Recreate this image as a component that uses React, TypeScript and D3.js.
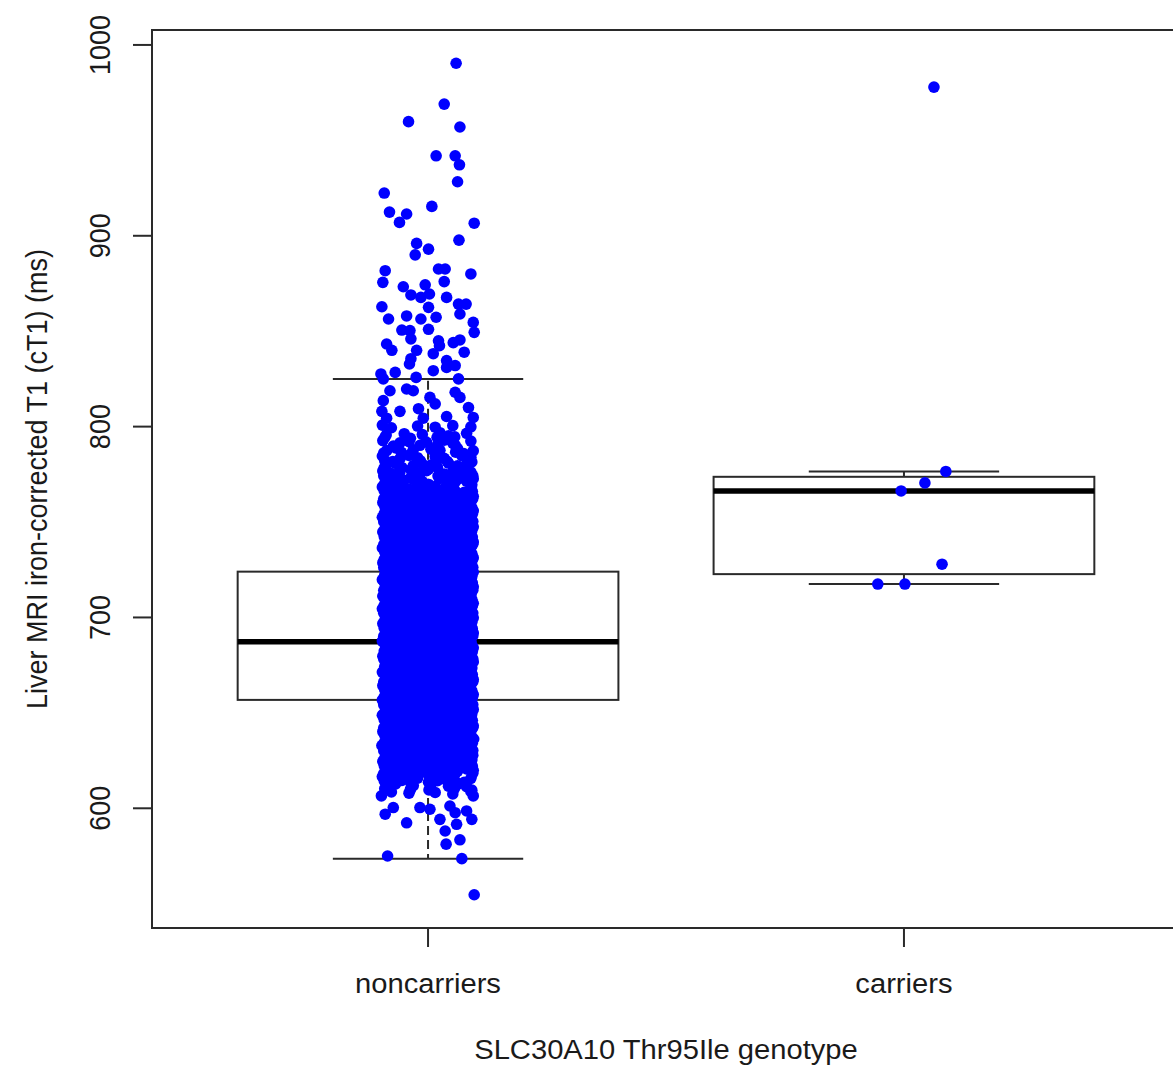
import React from "react";
import * as d3 from "d3";

// ---------- data ----------
const categories = ["noncarriers", "carriers"];
const boxLower = [573.5, 717.5];
const boxQ1 = [656.8, 722.7];
const boxMedian = [687.3, 766.3];
const boxQ3 = [724.0, 773.7];
const boxUpper = [824.9, 776.5];

const carrierValues = [977.9, 776.5, 770.5, 766.3, 727.9, 717.5, 717.5];
const carrierJitter = [0.063, 0.088, 0.044, -0.006, 0.08, -0.055, 0.002];

// [value, jitter] for noncarriers
const noncarrierUpper: [number, number][] = [
  [990.4,.059],[969.0,.034],[959.8,-.041],[957.0,.067],[941.9,.017],[941.9,.057],[937.2,.066],[928.3,.062],
  [922.4,-.092],[912.4,-.081],[911.4,-.045],[907.0,-.060],[915.4,.008],[906.6,.097],[897.7,.065],[896.0,-.024],
  [893.0,.001],[890.0,-.027],[882.6,.022],[882.6,.036],[880.0,.090],[881.7,-.090],[875.6,-.095],[876.0,.034],
  [873.3,-.052],[874.3,-.006],[869.0,-.036],[867.7,-.015],[869.5,.003],[867.7,.039],[862.8,-.097],[856.4,-.083],
  [858.0,-.045],[856.4,-.015],[862.5,.001],[857.3,.017],[864.2,.064],[864.2,.080],[859.0,.067],[854.6,.095],
  [849.4,.097],[850.6,-.055],[850.3,-.038],[851.0,.001],[846.0,-.036],[845.0,.022],[842.4,.024],[844.0,.053],
  [845.4,.067],[843.3,-.087],[840.0,-.076],[840.0,-.024],[835.6,-.036],[838.2,.011],[839.0,.076],[834.6,.039],
  [832.8,-.039],[827.6,-.099],[825.0,-.094],[828.4,-.069],[825.8,-.025],[829.3,.011],[831.0,.039],[832.0,.057],
  [825.0,.064],[818.8,-.080],[819.7,-.045],[818.8,-.031],[813.6,-.094],[815.3,.004],[811.9,.015],[818.0,.057],
  [815.3,.067],[810.0,.085],[804.8,.095],[808.0,-.097],[804.4,-.087],[808.0,-.059],[809.4,-.020],[804.4,-.010],
  [805.3,.039],
  [800.8,-.096],[799.4,-.077],[800.3,-.022],[799.7,.015],[800.5,.052],[799.9,.090],
  [795.6,-.088],[796.3,-.050],[795.9,-.012],[796.8,.025],[795.2,.043],[796.5,.081],
  [792.7,-.095],[791.5,-.059],[792.1,-.040],[791.8,-.003],[792.9,.034],[791.3,.052],[792.4,.090],
  [787.4,-.087],[788.8,-.068],[787.9,-.031],[788.2,.006],[787.6,.025],[788.5,.062],[787.3,.095],
  [784.6,-.096],[783.2,-.059],[784.9,-.040],[783.7,-.022],[784.3,.015],[783.4,.034],[784.8,.071],[783.9,.090],
  [779.3,-.088],[780.7,-.068],[779.6,-.031],[780.4,-.012],[779.8,.006],[780.9,.043],[779.5,.062],[780.2,.081],
  [776.8,-.095],[775.4,-.077],[776.3,-.059],[775.6,-.022],[776.9,-.003],[775.2,.034],[776.5,.052],[775.8,.071],[776.2,.090],
  [771.5,-.087],[772.6,-.068],[771.9,-.050],[772.3,-.031],[771.2,-.012],[772.8,.025],[771.7,.043],[772.4,.062],[771.4,.081],[772.7,.095],
  [768.4,-.096],[767.7,-.077],[768.9,-.059],[767.3,-.040],[768.2,-.022],[767.8,-.003],[768.6,.015],[767.5,.034],[768.8,.052],[768.1,.090],
  [794.3,-.091],[793.9,-.037],[794.4,.019],[794.6,.056],
  [789.8,-.073],[790.2,-.017],[790.5,.020],[790.3,.057],
  [786.2,-.093],[786.5,-.056],[785.8,-.035],[786.1,.021],[786.6,.058],[785.9,.075],
  [782.3,-.091],[781.7,-.074],[782.1,-.016],[782.4,.019],[781.8,.040],[781.5,.092],
  [778.4,-.092],[778.6,-.055],[777.5,-.036],[777.7,.001],[778.5,.020],[778.3,.057],[777.6,.076],
  [774.2,-.093],[773.6,-.072],[773.8,-.035],[774.4,-.018],[774.1,.021],[773.7,.038],[773.9,.075],[774.3,.094],
  [770.3,-.091],[769.7,-.074],[770.5,-.054],[770.1,-.016],[769.6,.002],[769.8,.040],[770.6,.056],[769.5,.092],
];

const noncarrierCore: [number, number][] = [
  [763.6,-.088],[764.9,-.068],[763.4,-.050],[764.2,-.031],[763.8,-.012],[764.5,.006],[763.3,.025],[764.7,.043],[763.9,.062],[764.4,.081],[763.5,.095],
  [760.3,-.095],[759.6,-.077],[760.7,-.059],[759.2,-.040],[760.5,-.022],[759.8,-.003],[760.9,.015],[759.4,.034],[760.2,.052],[759.7,.071],[760.6,.090],
  [755.8,-.087],[756.4,-.068],[755.2,-.050],[756.7,-.031],[755.5,-.012],[756.9,.006],[755.7,.025],[756.3,.043],[755.4,.062],[756.6,.081],[755.9,.095],
  [752.5,-.096],[751.6,-.077],[752.8,-.059],[751.3,-.040],[752.2,-.022],[751.9,-.003],[752.6,.015],[751.4,.034],[752.9,.052],[751.7,.071],[752.3,.090],
  [747.3,-.088],[748.7,-.068],[747.6,-.050],[748.4,-.031],[747.9,-.012],[748.2,.006],[747.4,.025],[748.8,.043],[747.7,.062],[748.3,.081],[747.5,.095],
  [744.8,-.095],[743.4,-.077],[744.3,-.059],[743.7,-.040],[744.9,-.022],[743.2,-.003],[744.5,.015],[743.8,.034],[744.2,.052],[743.5,.071],[744.6,.090],
  [739.5,-.087],[740.6,-.068],[739.8,-.050],[740.2,-.031],[739.3,-.012],[740.9,.006],[739.7,.025],[740.4,.043],[739.2,.062],[740.7,.081],[739.6,.095],
  [736.4,-.096],[735.8,-.077],[736.9,-.059],[735.3,-.040],[736.2,-.022],[735.6,-.003],[736.7,.015],[735.4,.034],[736.3,.052],[735.9,.071],[736.8,.090],
  [731.6,-.088],[732.3,-.068],[731.2,-.050],[732.7,-.031],[731.8,-.012],[732.5,.006],[731.4,.025],[732.9,.043],[731.7,.062],[732.2,.081],[731.3,.095],
  [728.7,-.095],[727.5,-.077],[728.2,-.059],[727.9,-.040],[728.8,-.022],[727.3,-.003],[728.4,.015],[727.6,.034],[728.9,.052],[727.8,.071],[728.3,.090],
  [723.4,-.087],[724.8,-.068],[723.7,-.050],[724.3,-.031],[723.2,-.012],[724.6,.006],[723.9,.025],[724.1,.043],[723.5,.062],[724.7,.081],[723.8,.095],
  [719.8,-.096],[720.5,-.077],[719.4,-.059],[720.2,-.040],[719.6,-.022],[720.9,-.003],[719.3,.015],[720.6,.034],[719.9,.052],[720.4,.071],[719.5,.090],
  [716.6,-.088],[715.3,-.068],[716.2,-.050],[715.8,-.031],[716.9,-.012],[715.5,.006],[716.4,.025],[715.2,.043],[716.7,.062],[715.9,.081],[716.1,.095],
  [711.2,-.095],[712.6,-.077],[711.8,-.059],[712.9,-.040],[711.4,-.022],[712.3,-.003],[711.7,.015],[712.8,.034],[711.5,.052],[712.1,.071],[711.9,.090],
  [707.7,-.087],[708.4,-.068],[707.3,-.050],[708.8,-.031],[707.9,-.012],[708.6,.006],[707.2,.025],[708.3,.043],[707.6,.062],[708.5,.081],[707.4,.095],
  [704.5,-.096],[703.2,-.077],[704.8,-.059],[703.6,-.040],[704.1,-.022],[703.9,-.003],[704.6,.015],[703.3,.034],[704.9,.052],[703.7,.071],[704.3,.090],
  [699.4,-.088],[700.7,-.068],[699.9,-.050],[700.3,-.031],[699.2,-.012],[700.8,.006],[699.6,.025],[700.2,.043],[699.3,.062],[700.9,.081],[699.8,.095],
  [696.8,-.095],[695.4,-.077],[696.3,-.059],[695.7,-.040],[696.9,-.022],[695.2,-.003],[696.5,.015],[695.9,.034],[696.2,.052],[695.6,.071],[696.7,.090],
  [691.3,-.087],[692.5,-.068],[691.8,-.050],[692.9,-.031],[691.5,-.012],[692.2,.006],[691.7,.025],[692.8,.043],[691.4,.062],[692.6,.081],[691.9,.095],
  [687.6,-.096],[688.9,-.077],[687.2,-.059],[688.4,-.040],[687.8,-.022],[688.6,-.003],[687.3,.015],[688.7,.034],[687.9,.052],[688.2,.071],[687.5,.090],
  [684.2,-.088],[683.5,-.068],[684.7,-.050],[683.8,-.031],[684.9,-.012],[683.3,.006],[684.4,.025],[683.6,.043],[684.8,.062],[683.9,.081],[684.1,.095],
  [679.7,-.095],[680.4,-.077],[679.3,-.059],[680.9,-.040],[679.8,-.022],[680.2,-.003],[679.5,.015],[680.6,.034],[679.1,.052],[680.8,.071],[679.6,.090],
  [676.5,-.087],[675.3,-.068],[676.8,-.050],[675.6,-.031],[676.2,-.012],[675.1,.006],[676.9,.025],[675.8,.043],[676.4,.062],[675.5,.081],[676.7,.095],
  [671.4,-.096],[672.7,-.077],[671.9,-.059],[672.3,-.040],[671.2,-.022],[672.8,-.003],[671.6,.015],[672.1,.034],[671.3,.052],[672.6,.071],[671.8,.090],
  [667.8,-.088],[668.5,-.068],[667.1,-.050],[668.9,-.031],[667.6,-.012],[668.2,.006],[667.4,.025],[668.7,.043],[667.9,.062],[668.3,.081],[667.5,.095],
  [664.3,-.095],[663.6,-.077],[664.8,-.059],[663.2,-.040],[664.5,-.022],[663.9,-.003],[664.7,.015],[663.4,.034],[664.1,.052],[663.8,.071],[664.9,.090],
  [659.5,-.087],[660.8,-.068],[659.2,-.050],[660.3,-.031],[659.9,-.012],[660.6,.006],[659.4,.025],[660.9,.043],[659.7,.062],[660.2,.081],[659.6,.095],
  [656.7,-.096],[655.3,-.077],[656.1,-.059],[655.6,-.040],[656.9,-.022],[655.4,-.003],[656.5,.015],[655.8,.034],[656.3,.052],[655.1,.071],[656.8,.090],
  [651.4,-.088],[652.6,-.068],[651.9,-.050],[652.8,-.031],[651.2,-.012],[652.4,.006],[651.7,.025],[652.9,.043],[651.5,.062],[652.3,.080],[651.8,.095],
  [648.8,-.096],[647.4,-.078],[648.3,-.059],[647.6,-.040],[649.0,-.022],[647.9,-.003],[648.6,.015],[647.3,.034],[648.9,.052],[647.7,.071],[648.2,.090],
  [643.5,-.087],[644.7,-.067],[643.3,-.050],[644.9,-.030],[643.8,-.012],[644.2,.007],[643.4,.025],[645.0,.043],[643.9,.062],[644.6,.081],[643.2,.095],
  [640.2,-.095],[641.0,-.077],[639.4,-.058],[640.7,-.041],[639.8,-.021],[640.9,-.004],[639.5,.016],[640.3,.033],[641.1,.053],[639.6,.070],[640.5,.090],
  [635.6,-.086],[636.9,-.069],[635.2,-.049],[636.4,-.032],[637.0,-.011],[635.8,.005],[636.6,.026],[635.4,.042],[636.8,.063],[635.5,.080],[636.3,.096],
  [632.9,-.097],[631.4,-.076],[632.5,-.060],[631.8,-.039],[633.1,-.023],[632.0,-.002],[631.3,.014],[632.7,.035],[631.6,.051],[632.8,.072],[631.5,.089],
  [627.3,-.088],[628.8,-.066],[627.6,-.051],[629.1,-.030],[628.2,-.013],[627.5,.007],[629.0,.024],[628.4,.044],[627.2,.061],[628.9,.082],[627.8,.094],
  [624.6,-.095],[623.2,-.078],[625.1,-.058],[623.8,-.041],[624.9,-.020],[623.5,-.004],[625.3,.016],[623.9,.033],[624.4,.054],[623.1,.070],[625.0,.091],
];

const noncarrierCoreFill: [number, number][] = [
  [622.4,-.092],[621.8,-.073],[622.6,-.055],[621.5,-.036],[622.2,-.017],[621.7,.001],[622.5,.020],[621.9,.039],[622.3,.057],[621.6,.076],[622.1,.093],
  [626.3,-.091],[625.7,-.074],[626.5,-.054],[625.9,-.037],[626.1,-.016],[625.6,.002],[626.4,.019],[625.8,.040],[626.6,.056],[626.0,.077],[625.5,.092],
  [630.2,-.093],[629.6,-.072],[630.5,-.056],[629.8,-.035],[630.4,-.018],[629.5,.001],[630.1,.021],[629.7,.038],[630.6,.058],[629.9,.075],[630.3,.094],
  [634.4,-.092],[633.8,-.073],[634.6,-.055],[633.5,-.036],[634.2,-.017],[633.7,.001],[634.5,.020],[633.9,.039],[634.3,.057],[633.6,.076],[634.1,.093],
  [638.3,-.091],[637.7,-.074],[638.5,-.054],[637.9,-.037],[638.1,-.016],[637.6,.002],[638.4,.019],[637.8,.040],[638.6,.056],[638.0,.077],[637.5,.092],
  [642.2,-.093],[641.6,-.072],[642.5,-.056],[641.8,-.035],[642.4,-.018],[641.5,.001],[642.1,.021],[641.7,.038],[642.6,.058],[641.9,.075],[642.3,.094],
  [646.4,-.092],[645.8,-.073],[646.6,-.055],[645.5,-.036],[646.2,-.017],[645.7,.001],[646.5,.020],[645.9,.039],[646.3,.057],[645.6,.076],[646.1,.093],
  [650.3,-.091],[649.7,-.074],[650.5,-.054],[649.9,-.037],[650.1,-.016],[649.6,.002],[650.4,.019],[649.8,.040],[650.6,.056],[650.0,.077],[649.5,.092],
  [654.2,-.093],[653.6,-.072],[654.5,-.056],[653.8,-.035],[654.4,-.018],[653.5,.001],[654.1,.021],[653.7,.038],[654.6,.058],[653.9,.075],[654.3,.094],
  [658.4,-.092],[657.8,-.073],[658.6,-.055],[657.5,-.036],[658.2,-.017],[657.7,.001],[658.5,.020],[657.9,.039],[658.3,.057],[657.6,.076],[658.1,.093],
  [662.3,-.091],[661.7,-.074],[662.5,-.054],[661.9,-.037],[662.1,-.016],[661.6,.002],[662.4,.019],[661.8,.040],[662.6,.056],[662.0,.077],[661.5,.092],
  [666.2,-.093],[665.6,-.072],[666.5,-.056],[665.8,-.035],[666.4,-.018],[665.5,.001],[666.1,.021],[665.7,.038],[666.6,.058],[665.9,.075],[666.3,.094],
  [670.4,-.092],[669.8,-.073],[670.6,-.055],[669.5,-.036],[670.2,-.017],[669.7,.001],[670.5,.020],[669.9,.039],[670.3,.057],[669.6,.076],[670.1,.093],
  [674.3,-.091],[673.7,-.074],[674.5,-.054],[673.9,-.037],[674.1,-.016],[673.6,.002],[674.4,.019],[673.8,.040],[674.6,.056],[674.0,.077],[673.5,.092],
  [678.2,-.093],[677.6,-.072],[678.5,-.056],[677.8,-.035],[678.4,-.018],[677.5,.001],[678.1,.021],[677.7,.038],[678.6,.058],[677.9,.075],[678.3,.094],
  [682.4,-.092],[681.8,-.073],[682.6,-.055],[681.5,-.036],[682.2,-.017],[681.7,.001],[682.5,.020],[681.9,.039],[682.3,.057],[681.6,.076],[682.1,.093],
  [686.3,-.091],[685.7,-.074],[686.5,-.054],[685.9,-.037],[686.1,-.016],[685.6,.002],[686.4,.019],[685.8,.040],[686.6,.056],[686.0,.077],[685.5,.092],
  [690.2,-.093],[689.6,-.072],[690.5,-.056],[689.8,-.035],[690.4,-.018],[689.5,.001],[690.1,.021],[689.7,.038],[690.6,.058],[689.9,.075],[690.3,.094],
  [694.4,-.092],[693.8,-.073],[694.6,-.055],[693.5,-.036],[694.2,-.017],[693.7,.001],[694.5,.020],[693.9,.039],[694.3,.057],[693.6,.076],[694.1,.093],
  [698.3,-.091],[697.7,-.074],[698.5,-.054],[697.9,-.037],[698.1,-.016],[697.6,.002],[698.4,.019],[697.8,.040],[698.6,.056],[698.0,.077],[697.5,.092],
  [702.2,-.093],[701.6,-.072],[702.5,-.056],[701.8,-.035],[702.4,-.018],[701.5,.001],[702.1,.021],[701.7,.038],[702.6,.058],[701.9,.075],[702.3,.094],
  [706.4,-.092],[705.8,-.073],[706.6,-.055],[705.5,-.036],[706.2,-.017],[705.7,.001],[706.5,.020],[705.9,.039],[706.3,.057],[705.6,.076],[706.1,.093],
  [710.3,-.091],[709.7,-.074],[710.5,-.054],[709.9,-.037],[710.1,-.016],[709.6,.002],[710.4,.019],[709.8,.040],[710.6,.056],[710.0,.077],[709.5,.092],
  [714.2,-.093],[713.6,-.072],[714.5,-.056],[713.8,-.035],[714.4,-.018],[713.5,.001],[714.1,.021],[713.7,.038],[714.6,.058],[713.9,.075],[714.3,.094],
  [718.4,-.092],[717.8,-.073],[718.6,-.055],[717.5,-.036],[718.2,-.017],[717.7,.001],[718.5,.020],[717.9,.039],[718.3,.057],[717.6,.076],[718.1,.093],
  [722.3,-.091],[721.7,-.074],[722.5,-.054],[721.9,-.037],[722.1,-.016],[721.6,.002],[722.4,.019],[721.8,.040],[722.6,.056],[722.0,.077],[721.5,.092],
  [726.2,-.093],[725.6,-.072],[726.5,-.056],[725.8,-.035],[726.4,-.018],[725.5,.001],[726.1,.021],[725.7,.038],[726.6,.058],[725.9,.075],[726.3,.094],
  [730.4,-.092],[729.8,-.073],[730.6,-.055],[729.5,-.036],[730.2,-.017],[729.7,.001],[730.5,.020],[729.9,.039],[730.3,.057],[729.6,.076],[730.1,.093],
  [734.3,-.091],[733.7,-.074],[734.5,-.054],[733.9,-.037],[734.1,-.016],[733.6,.002],[734.4,.019],[733.8,.040],[734.6,.056],[734.0,.077],[733.5,.092],
  [738.2,-.093],[737.6,-.072],[738.5,-.056],[737.8,-.035],[738.4,-.018],[737.5,.001],[738.1,.021],[737.7,.038],[738.6,.058],[737.9,.075],[738.3,.094],
  [742.4,-.092],[741.8,-.073],[742.6,-.055],[741.5,-.036],[742.2,-.017],[741.7,.001],[742.5,.020],[741.9,.039],[742.3,.057],[741.6,.076],[742.1,.093],
  [746.3,-.091],[745.7,-.074],[746.5,-.054],[745.9,-.037],[746.1,-.016],[745.6,.002],[746.4,.019],[745.8,.040],[746.6,.056],[746.0,.077],[745.5,.092],
  [750.2,-.093],[749.6,-.072],[750.5,-.056],[749.8,-.035],[750.4,-.018],[749.5,.001],[750.1,.021],[749.7,.038],[750.6,.058],[749.9,.075],[750.3,.094],
  [754.4,-.092],[753.8,-.073],[754.6,-.055],[753.5,-.036],[754.2,-.017],[753.7,.001],[754.5,.020],[753.9,.039],[754.3,.057],[753.6,.076],[754.1,.093],
  [758.3,-.091],[757.7,-.074],[758.5,-.054],[757.9,-.037],[758.1,-.016],[757.6,.002],[758.4,.019],[757.8,.040],[758.6,.056],[758.0,.077],[757.5,.092],
  [762.2,-.093],[761.6,-.072],[762.5,-.056],[761.8,-.035],[762.4,-.018],[761.5,.001],[762.1,.021],[761.7,.038],[762.6,.058],[761.9,.075],[762.3,.094],
  [766.4,-.092],[765.8,-.073],[766.6,-.055],[765.5,-.036],[766.2,-.017],[765.7,.001],[766.5,.020],[765.9,.039],[766.3,.057],[765.6,.076],[766.1,.093],
];

const noncarrierLower: [number, number][] = [
  [619.5,-.087],[620.7,-.068],[619.2,-.050],[620.4,-.031],[619.8,-.012],[620.9,.006],[619.6,.025],[620.3,.043],[619.4,.062],[620.6,.081],[619.9,.095],
  [618.2,-.093],[617.6,-.072],[618.5,-.056],[618.4,-.018],[617.5,.001],[618.1,.021],[617.7,.038],[618.6,.058],[618.3,.094],
  [616.6,-.096],[615.3,-.077],[616.2,-.040],[615.8,-.022],[616.9,.015],[615.4,.034],[616.5,.052],[615.7,.090],
  [614.4,-.092],[614.6,-.055],[613.5,-.036],[613.7,.001],[614.5,.020],[614.3,.057],[613.6,.076],
  [611.4,-.087],[612.8,-.068],[611.9,-.031],[612.3,.006],[611.6,.043],[612.7,.062],[611.3,.081],
  [610.3,-.091],[609.9,-.037],[609.6,.002],[610.6,.056],[609.5,.092],
  [608.6,-.077],[607.9,-.040],[608.3,.015],[607.5,.052],[608.8,.090],
  [606.5,-.098],[600.4,-.073],[600.4,-.017],[599.5,.004],[601.2,.046],[597.7,.057],[598.6,.081],[606.5,.095],
  [596.9,-.090],[592.4,-.045],[594.2,.025],[588.1,.036],[591.6,.060],[594.2,.092],[581.2,.038],[583.5,.067],
  [575.0,-.085],[573.6,.071],[554.7,.097],
];

const yTicks = [600, 700, 800, 900, 1000];
const xTitle = "SLC30A10 Thr95Ile genotype";
const yTitle = "Liver MRI iron-corrected T1 (cT1) (ms)";

// ---------- component ----------
export default function App() {
  const W = 1173;
  const H = 1072;
  const plotLeft = 152;
  const plotRight = 1180;
  const plotTop = 30;
  const plotBottom = 928;

  const noncarriers = [...noncarrierUpper, ...noncarrierCore, ...noncarrierCoreFill, ...noncarrierLower];
  const allValues = [...noncarriers.map((d) => d[0]), ...carrierValues];
  const [minV, maxV] = d3.extent(allValues) as [number, number];
  const pad = (maxV - minV) * 0.04;

  const x = d3.scaleLinear().domain([0.42, 2.58]).range([plotLeft, plotRight]);
  const y = d3.scaleLinear().domain([minV - pad, maxV + pad]).range([plotBottom, plotTop]);

  const points: { v: number; j: number; g: number }[] = [
    ...noncarriers.map((d) => ({ v: d[0], j: d[1], g: 0 })),
    ...carrierValues.map((v, i) => ({ v, j: carrierJitter[i], g: 1 })),
  ];

  const lineColor = "#2a2a2a";
  const font = "'Liberation Sans', Arial, Helvetica, sans-serif";
  const fs = 27;
  const sx = 1.08;

  return (
    <svg
      width={W}
      height={H}
      style={{ position: "absolute", left: 0, top: 0, background: "#fff" }}
    >
      <rect x={0} y={0} width={W} height={H} fill="#fff" />
      {/* boxes */}
      {categories.map((c, i) => {
        const cx = x(i + 1);
        const hw = x(1.4) - x(1);
        const cw = x(1.2) - x(1);
        return (
          <g key={c}>
            <line x1={cx} x2={cx} y1={y(boxQ3[i])} y2={y(boxUpper[i])} stroke={lineColor} strokeWidth={2} strokeDasharray="9,5" />
            <line x1={cx} x2={cx} y1={y(boxQ1[i])} y2={y(boxLower[i])} stroke={lineColor} strokeWidth={2} strokeDasharray="9,5" />
            <line x1={cx - cw} x2={cx + cw} y1={y(boxUpper[i])} y2={y(boxUpper[i])} stroke={lineColor} strokeWidth={2} />
            <line x1={cx - cw} x2={cx + cw} y1={y(boxLower[i])} y2={y(boxLower[i])} stroke={lineColor} strokeWidth={2} />
            <rect x={cx - hw} y={y(boxQ3[i])} width={2 * hw} height={y(boxQ1[i]) - y(boxQ3[i])} fill="none" stroke={lineColor} strokeWidth={2} />
            <line x1={cx - hw} x2={cx + hw} y1={y(boxMedian[i])} y2={y(boxMedian[i])} stroke="#000" strokeWidth={5.5} />
          </g>
        );
      })}
      {/* frame */}
      <rect x={plotLeft} y={plotTop} width={plotRight - plotLeft} height={plotBottom - plotTop} fill="none" stroke={lineColor} strokeWidth={2} />
      {/* y axis */}
      {yTicks.map((t) => (
        <g key={t}>
          <line x1={plotLeft - 19} x2={plotLeft} y1={y(t)} y2={y(t)} stroke={lineColor} strokeWidth={2} />
          <text
            transform={`translate(${110},${y(t)}) scale(${sx},1) rotate(-90)`}
            textAnchor="middle"
            fontFamily={font}
            fontSize={fs}
            fill="#1a1a1a"
          >
            {t}
          </text>
        </g>
      ))}
      {/* x axis */}
      {categories.map((c, i) => (
        <g key={c}>
          <line x1={x(i + 1)} x2={x(i + 1)} y1={plotBottom} y2={plotBottom + 19} stroke={lineColor} strokeWidth={2} />
          <text
            transform={`translate(${x(i + 1)},${993}) scale(${sx},1)`}
            textAnchor="middle"
            fontFamily={font}
            fontSize={fs}
            fill="#1a1a1a"
          >
            {c}
          </text>
        </g>
      ))}
      {/* titles */}
      <text
        transform={`translate(${(plotLeft + plotRight) / 2},${1059}) scale(${sx},1)`}
        textAnchor="middle"
        fontFamily={font}
        fontSize={fs}
        fill="#1a1a1a"
      >
        {xTitle}
      </text>
      <text
        transform={`translate(${47},${(plotTop + plotBottom) / 2}) scale(${sx},1) rotate(-90)`}
        textAnchor="middle"
        fontFamily={font}
        fontSize={fs}
        fill="#1a1a1a"
      >
        {yTitle}
      </text>
      {/* points */}
      {points.map((p, k) => (
        <circle key={k} cx={x(p.g + 1 + p.j)} cy={y(p.v)} r={5.8} fill="#0000ff" />
      ))}
    </svg>
  );
}
